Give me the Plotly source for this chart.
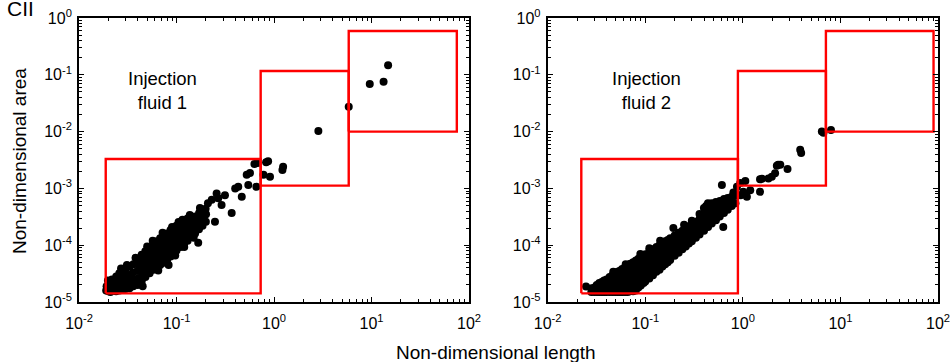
import plotly.graph_objects as go

# ---------------------------------------------------------------------------
# Injection fluid 1: non-dimensional length / area of each fracture
# ---------------------------------------------------------------------------
length_1 = [
    0.019, 0.0192,
    0.0200, 0.0205, 0.0198,
    0.021, 0.0212, 0.0208,
    0.022, 0.0223, 0.0218,
    0.024, 0.0242, 0.0238, 0.0241,
    0.026, 0.0258, 0.0262, 0.0259,
    0.028, 0.0283, 0.0278, 0.0281,
    0.030, 0.0302, 0.0298, 0.0301,
    0.033, 0.0332, 0.0328, 0.0331,
    0.036, 0.0362, 0.0358, 0.0361,
    0.040, 0.0403, 0.0397, 0.0401, 0.0399,
    0.044, 0.0443, 0.0437, 0.0441, 0.0439,
    0.048, 0.0483, 0.0478, 0.0481, 0.0479,
    0.053, 0.0533, 0.0527, 0.0531, 0.0529,
    0.058, 0.0584, 0.0577, 0.0582, 0.0579,
    0.063, 0.0634, 0.0627, 0.0632, 0.0629,
    0.068, 0.0684, 0.0677, 0.0682, 0.0679,
    0.074, 0.0744, 0.0737, 0.0742, 0.0739,
    0.080, 0.0805, 0.0796, 0.0802, 0.0799,
    0.087, 0.0875, 0.0866, 0.0872, 0.0869,
    0.094, 0.0945, 0.0936, 0.0942, 0.0939,
    0.100, 0.101, 0.099, 0.1005, 0.0998,
    0.110, 0.111, 0.109, 0.1105, 0.1098,
    0.120, 0.121, 0.119, 0.1205, 0.1198,
    0.130, 0.131, 0.129, 0.1305, 0.1298,
    0.140, 0.141, 0.139, 0.1405, 0.1398,
    0.155, 0.156, 0.154, 0.1555,
    0.170, 0.171, 0.169, 0.1705, 0.167,
    0.185, 0.186, 0.184,
    0.200, 0.201, 0.199,
    # scattered points along the upper and lower edges of the cloud
    0.027, 0.038, 0.050, 0.090, 0.115, 0.065, 0.097, 0.120,
    0.031, 0.057, 0.072, 0.105, 0.045, 0.083, 0.150,
    # sparse tail
    0.137, 0.174, 0.196, 0.188, 0.210, 0.248, 0.230, 0.268, 0.290,
    0.314, 0.258, 0.368, 0.400, 0.430, 0.467, 0.545, 0.525, 0.567,
    0.660, 0.630, 0.680, 0.830, 0.870, 0.780, 0.910, 1.24, 1.22,
    2.85, 5.84, 9.6, 13.3, 14.8,
]
area_1 = [
    1.6e-5, 1.9e-5,
    1.55e-5, 2.0e-5, 2.4e-5,
    1.5e-5, 1.8e-5, 2.2e-5,
    1.6e-5, 1.9e-5, 2.5e-5,
    1.55e-5, 1.9e-5, 2.35e-5, 2.8e-5,
    1.6e-5, 2.0e-5, 2.5e-5, 3.2e-5,
    1.65e-5, 2.1e-5, 2.75e-5, 3.5e-5,
    1.7e-5, 2.2e-5, 2.8e-5, 3.8e-5,
    1.75e-5, 2.3e-5, 3.0e-5, 4.2e-5,
    1.9e-5, 2.5e-5, 3.3e-5, 4.6e-5,
    2.0e-5, 2.6e-5, 3.5e-5, 4.6e-5, 5.8e-5,
    2.35e-5, 3.1e-5, 4.0e-5, 5.2e-5, 6.8e-5,
    2.75e-5, 3.5e-5, 4.7e-5, 6.0e-5, 7.8e-5,
    3.2e-5, 4.2e-5, 5.5e-5, 7.2e-5, 9.1e-5,
    3.7e-5, 4.8e-5, 6.3e-5, 8.3e-5, 1.07e-4,
    4.1e-5, 5.2e-5, 6.9e-5, 9.1e-5, 1.17e-4,
    4.5e-5, 5.8e-5, 7.6e-5, 1.0e-4, 1.32e-4,
    4.9e-5, 6.3e-5, 8.3e-5, 1.1e-4, 1.45e-4,
    5.4e-5, 7.1e-5, 9.3e-5, 1.23e-4, 1.6e-4,
    6.3e-5, 8.3e-5, 1.1e-4, 1.45e-4, 1.86e-4,
    7.2e-5, 9.5e-5, 1.26e-4, 1.6e-4, 2.0e-4,
    8.1e-5, 1.07e-4, 1.4e-4, 1.8e-4, 2.2e-4,
    9.3e-5, 1.2e-4, 1.55e-4, 2.0e-4, 2.45e-4,
    1.07e-4, 1.4e-4, 1.75e-4, 2.2e-4, 2.7e-4,
    1.2e-4, 1.55e-4, 1.95e-4, 2.45e-4, 2.95e-4,
    1.4e-4, 1.75e-4, 2.2e-4, 2.75e-4, 3.2e-4,
    1.6e-4, 2.0e-4, 2.5e-4, 3.2e-4,
    1.9e-4, 2.4e-4, 3.0e-4, 3.7e-4, 1.1e-4,
    2.2e-4, 2.9e-4, 3.6e-4,
    2.6e-4, 3.5e-4, 4.4e-4,
    3.9e-5, 6.0e-5, 9.5e-5, 2.1e-4, 2.8e-4, 3.6e-5, 6.6e-5, 9.3e-5,
    4.5e-5, 1.2e-4, 1.65e-4, 2.55e-4, 1.9e-5, 4.5e-5, 1.35e-4,
    3.4e-4, 4.5e-4, 3.9e-4, 2.75e-4, 5.5e-4, 2.6e-4, 6.3e-4, 6.7e-4, 5.1e-4,
    7.6e-4, 8.1e-4, 3.7e-4, 1.0e-3, 1.07e-3, 7.1e-4, 1.15e-3, 1.74e-3, 1.86e-3,
    1.07e-3, 2.7e-3, 2.8e-3, 2.9e-3, 3.0e-3, 1.74e-3, 1.6e-3, 2.4e-3, 2.1e-3,
    0.0102, 0.0274, 0.069, 0.0755, 0.147,
]

# ---------------------------------------------------------------------------
# Injection fluid 2
# ---------------------------------------------------------------------------
length_2 = [
    0.028, 0.0282,
    0.030, 0.0302,
    0.032, 0.0322, 0.0318,
    0.034, 0.0342, 0.0338,
    0.036, 0.0362, 0.0358,
    0.038, 0.0382, 0.0378,
    0.040, 0.0403, 0.0397, 0.0401,
    0.043, 0.0433, 0.0427, 0.0431,
    0.046, 0.0463, 0.0457, 0.0461,
    0.049, 0.0493, 0.0487, 0.0491, 0.0489,
    0.052, 0.0523, 0.0517, 0.0521, 0.0519,
    0.055, 0.0553, 0.0547, 0.0551, 0.0549,
    0.058, 0.0584, 0.0577, 0.0582, 0.0579,
    0.062, 0.0624, 0.0617, 0.0622, 0.0619, 0.0621,
    0.066, 0.0664, 0.0657, 0.0662, 0.0659, 0.0661,
    0.070, 0.0704, 0.0697, 0.0702, 0.0699, 0.0701,
    0.075, 0.0754, 0.0747, 0.0752, 0.0749, 0.0751,
    0.080, 0.0805, 0.0796, 0.0802, 0.0799, 0.0801,
    0.085, 0.0855, 0.0846, 0.0852, 0.0849, 0.0851,
    0.090, 0.0905, 0.0896, 0.0902, 0.0899, 0.0901,
    0.096, 0.0965, 0.0956, 0.0962, 0.0959, 0.0961,
    0.100, 0.101, 0.099, 0.1005, 0.0998, 0.1002,
    0.110, 0.111, 0.109, 0.1105, 0.1098, 0.1102,
    0.120, 0.121, 0.119, 0.1205, 0.1198, 0.1202,
    0.130, 0.131, 0.129, 0.1305, 0.1298, 0.1302,
    0.140, 0.141, 0.139, 0.1405, 0.1398, 0.1402,
    0.150, 0.151, 0.149, 0.1505, 0.1498, 0.1502,
    0.160, 0.161, 0.159, 0.1605, 0.1598, 0.1602,
    0.170, 0.171, 0.169, 0.1705, 0.1698, 0.1702,
    0.180, 0.181, 0.179, 0.1805, 0.1798, 0.1802,
    0.200, 0.201, 0.199, 0.2005, 0.1998, 0.2002,
    0.220, 0.221, 0.219, 0.2205, 0.2198,
    0.240, 0.241, 0.239, 0.2405, 0.2398,
    0.260, 0.261, 0.259, 0.2605, 0.2598,
    0.280, 0.281, 0.279, 0.2805, 0.2798,
    0.300, 0.301, 0.299, 0.3005, 0.2998,
    0.330, 0.331, 0.329, 0.3305, 0.3298,
    0.360, 0.361, 0.359, 0.3605, 0.3598,
    0.400, 0.402, 0.398, 0.401, 0.399,
    0.440, 0.442, 0.438, 0.441, 0.439,
    0.480, 0.482, 0.478, 0.481, 0.479,
    0.530, 0.532, 0.528, 0.531, 0.529,
    0.580, 0.582, 0.578, 0.581,
    0.640, 0.642, 0.638, 0.641,
    0.700, 0.702, 0.698,
    0.770, 0.772, 0.768,
    0.840, 0.842,
    # scattered points along the edges of the cloud
    0.0247, 0.063, 0.089, 0.142, 0.194, 0.300,
    0.047, 0.110, 0.250, 0.420,
    # sparse tail
    0.61, 0.63, 0.80, 0.87, 0.94, 0.95, 1.01, 1.06, 1.10, 1.19,
    1.50, 1.50, 1.57, 1.83, 1.98, 2.14, 2.23, 2.30, 2.42, 2.87,
    3.87, 3.96, 6.45, 6.70, 8.00,
]
area_2 = [
    1.5e-5, 1.75e-5,
    1.5e-5, 1.8e-5,
    1.5e-5, 1.75e-5, 2.0e-5,
    1.5e-5, 1.8e-5, 2.15e-5,
    1.5e-5, 1.8e-5, 2.25e-5,
    1.5e-5, 1.9e-5, 2.4e-5,
    1.5e-5, 1.8e-5, 2.15e-5, 2.5e-5,
    1.5e-5, 1.85e-5, 2.3e-5, 2.75e-5,
    1.5e-5, 1.9e-5, 2.4e-5, 2.95e-5,
    1.5e-5, 1.8e-5, 2.2e-5, 2.6e-5, 3.15e-5,
    1.5e-5, 1.85e-5, 2.3e-5, 2.8e-5, 3.4e-5,
    1.5e-5, 1.8e-5, 2.3e-5, 2.9e-5, 3.55e-5,
    1.5e-5, 1.9e-5, 2.4e-5, 3.0e-5, 3.8e-5,
    1.5e-5, 1.85e-5, 2.3e-5, 2.8e-5, 3.4e-5, 4.1e-5,
    1.5e-5, 1.85e-5, 2.35e-5, 2.9e-5, 3.55e-5, 4.4e-5,
    1.55e-5, 1.9e-5, 2.4e-5, 3.0e-5, 3.8e-5, 4.7e-5,
    1.55e-5, 1.9e-5, 2.4e-5, 3.0e-5, 3.9e-5, 5.0e-5,
    1.6e-5, 2.05e-5, 2.6e-5, 3.3e-5, 4.3e-5, 5.4e-5,
    1.8e-5, 2.25e-5, 2.8e-5, 3.6e-5, 4.6e-5, 5.8e-5,
    1.95e-5, 2.45e-5, 3.1e-5, 3.9e-5, 4.9e-5, 6.2e-5,
    2.15e-5, 2.7e-5, 3.4e-5, 4.3e-5, 5.4e-5, 6.6e-5,
    2.3e-5, 2.9e-5, 3.55e-5, 4.5e-5, 5.6e-5, 6.9e-5,
    2.6e-5, 3.2e-5, 4.1e-5, 5.0e-5, 6.3e-5, 7.8e-5,
    2.95e-5, 3.6e-5, 4.5e-5, 5.6e-5, 6.9e-5, 8.5e-5,
    3.4e-5, 4.2e-5, 5.1e-5, 6.3e-5, 7.8e-5, 9.3e-5,
    3.7e-5, 4.6e-5, 5.6e-5, 6.9e-5, 8.3e-5, 1.0e-4,
    4.2e-5, 5.1e-5, 6.2e-5, 7.6e-5, 9.1e-5, 1.1e-4,
    4.6e-5, 5.5e-5, 6.8e-5, 8.1e-5, 9.8e-5, 1.17e-4,
    5.0e-5, 6.0e-5, 7.2e-5, 8.7e-5, 1.05e-4, 1.23e-4,
    5.5e-5, 6.6e-5, 7.9e-5, 9.5e-5, 1.12e-4, 1.32e-4,
    6.5e-5, 7.8e-5, 9.3e-5, 1.12e-4, 1.3e-4, 1.48e-4,
    7.4e-5, 9.1e-5, 1.1e-4, 1.35e-4, 1.66e-4,
    8.5e-5, 1.02e-4, 1.23e-4, 1.5e-4, 1.8e-4,
    9.5e-5, 1.15e-4, 1.38e-4, 1.66e-4, 2.0e-4,
    1.07e-4, 1.3e-4, 1.5e-4, 1.8e-4, 2.15e-4,
    1.17e-4, 1.4e-4, 1.66e-4, 1.95e-4, 2.3e-4,
    1.35e-4, 1.6e-4, 1.9e-4, 2.25e-4, 2.6e-4,
    1.55e-4, 1.9e-4, 2.35e-4, 2.9e-4, 3.55e-4,
    1.8e-4, 2.3e-4, 2.9e-4, 3.6e-4, 4.5e-4,
    2.1e-4, 2.6e-4, 3.3e-4, 4.3e-4, 5.5e-4,
    2.4e-4, 2.95e-4, 3.6e-4, 4.5e-4, 5.5e-4,
    2.75e-4, 3.3e-4, 4.0e-4, 4.8e-4, 5.75e-4,
    3.2e-4, 3.9e-4, 4.9e-4, 6.0e-4,
    3.7e-4, 4.5e-4, 5.4e-4, 6.5e-4,
    4.2e-4, 5.4e-4, 6.8e-4,
    4.9e-4, 5.9e-4, 7.1e-4,
    5.5e-4, 7.4e-4,
    1.87e-5, 4.6e-5, 7.0e-5, 1.2e-4, 2.0e-4, 2.7e-4,
    3.4e-5, 8.8e-5, 2.3e-4, 4.9e-4,
    1.15e-3, 2.1e-4, 8.5e-4, 1.07e-3, 1.25e-3, 7.6e-4, 8.7e-4, 1.35e-3, 7.1e-4, 9.3e-4,
    8.7e-4, 1.45e-3, 1.48e-3, 1.5e-3, 1.6e-3, 1.85e-3, 2.5e-3, 2.6e-3, 2.6e-3, 2.2e-3,
    4.8e-3, 4.2e-3, 0.0100, 9.5e-3, 0.0107,
]

# Classification windows (length range, area range) for each panel
windows_len_1 = [(0.0188, 0.73), (0.73, 5.84), (5.84, 75.0)]
windows_len_2 = [(0.0221, 0.89), (0.89, 7.1), (7.1, 90.0)]
windows_area = [(1.42e-5, 3.3e-3), (1.12e-3, 0.117), (0.0100, 0.59)]

# Axis ticks
x_tickvals = [1e-2, 1e-1, 1e0, 1e1, 1e2]
x_ticktext = ["10<sup>-2</sup>", "10<sup>-1</sup>", "10<sup>0</sup>", "10<sup>1</sup>", "10<sup>2</sup>"]
y_tickvals = [1e-5, 1e-4, 1e-3, 1e-2, 1e-1, 1e0]
y_ticktext = ["10<sup>-5</sup>", "10<sup>-4</sup>", "10<sup>-3</sup>", "10<sup>-2</sup>",
              "10<sup>-1</sup>", "10<sup>0</sup>"]
x_minor = [m * 10.0 ** e for e in range(-2, 2) for m in range(2, 10)]
y_minor = [m * 10.0 ** e for e in range(-5, 0) for m in range(2, 10)]

FONT = "Liberation Sans, Arial, sans-serif"

fig = go.Figure()

panels = [
    ("x", "y", length_1, area_1, windows_len_1),
    ("x2", "y2", length_2, area_2, windows_len_2),
]
for xa, ya, lx, ly, wins in panels:
    fig.add_trace(go.Scatter(
        x=lx, y=ly, mode="markers", xaxis=xa, yaxis=ya,
        marker=dict(color="black", size=8, line=dict(width=0)),
        showlegend=False, hoverinfo="skip",
    ))
    for (x0, x1), (y0, y1) in zip(wins, windows_area):
        fig.add_trace(go.Scatter(
            x=[x0, x1, x1, x0, x0], y=[y0, y0, y1, y1, y0],
            mode="lines", xaxis=xa, yaxis=ya,
            line=dict(color="#ff0000", width=2.4),
            showlegend=False, hoverinfo="skip",
        ))


def log_axis(domain, tickvals, ticktext, minor_vals, rng, **extra):
    return dict(
        type="log", domain=domain, range=rng, automargin=False,
        showline=True, linecolor="black", linewidth=1.8, mirror="ticks",
        ticks="inside", ticklen=5, tickwidth=1, tickcolor="black",
        tickvals=tickvals, ticktext=ticktext,
        tickfont=dict(family=FONT, size=16, color="black"),
        minor=dict(ticks="inside", ticklen=3, tickwidth=1, tickcolor="black",
                   tickvals=minor_vals, showgrid=False),
        showgrid=False, zeroline=False,
        **extra,
    )


y_dom = [60 / 362, 344 / 362]
fig.update_layout(
    template="none",
    width=951, height=362,
    margin=dict(l=0, r=0, t=0, b=0, pad=0),
    paper_bgcolor="white", plot_bgcolor="white",
    font=dict(family=FONT, color="black"),
    xaxis=log_axis([79 / 951, 469 / 951], x_tickvals, x_ticktext, x_minor, [-2, 2],
                   anchor="y", ticklabelstandoff=6),
    yaxis=log_axis(y_dom, y_tickvals, y_ticktext, y_minor, [-5, 0], anchor="x",
                   ticklabelstandoff=2),
    xaxis2=log_axis([547.7 / 951, 938 / 951], x_tickvals, x_ticktext, x_minor, [-2, 2],
                    anchor="y2", ticklabelstandoff=6),
    yaxis2=log_axis(y_dom, y_tickvals, y_ticktext, y_minor, [-5, 0], anchor="x2",
                    ticklabelstandoff=2),
)

annotations = [
    dict(text="Injection<br>fluid 1", xref="paper", yref="paper",
         x=162 / 951, y=(362 - 90) / 362, xanchor="center", yanchor="middle",
         showarrow=False, font=dict(size=18.5, family=FONT)),
    dict(text="Injection<br>fluid 2", xref="paper", yref="paper",
         x=646 / 951, y=(362 - 90) / 362, xanchor="center", yanchor="middle",
         showarrow=False, font=dict(size=18.5, family=FONT)),
    dict(text="Non-dimensional length", xref="paper", yref="paper",
         x=495.5 / 951, y=(362 - 352) / 362, xanchor="center", yanchor="middle",
         showarrow=False, font=dict(size=19, family=FONT)),
    dict(text="Non-dimensional area", xref="paper", yref="paper",
         x=19 / 951, y=(362 - 161) / 362, xanchor="center", yanchor="middle",
         textangle=-90, showarrow=False, font=dict(size=19, family=FONT)),
    dict(text="CII", xref="paper", yref="paper", x=5 / 951, y=1 + 5 / 362,
         xanchor="left", yanchor="top", showarrow=False, font=dict(size=21, family=FONT)),
]
fig.update_layout(annotations=annotations)

fig.write_html("out.html", config={"displayModeBar": False})
